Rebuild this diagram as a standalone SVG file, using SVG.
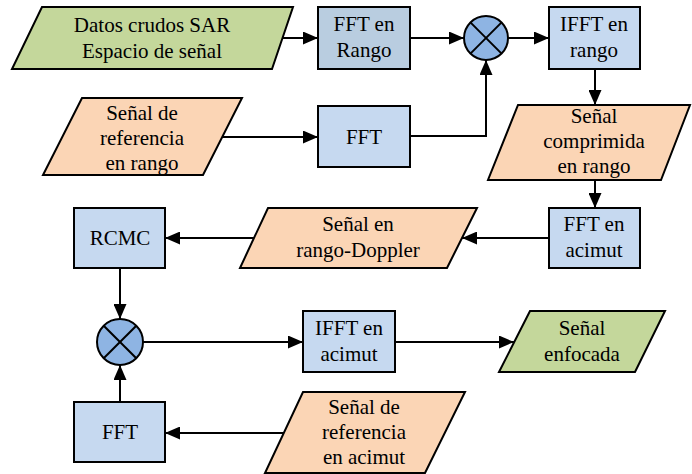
<svg xmlns="http://www.w3.org/2000/svg" width="692" height="474" viewBox="0 0 692 474">
<style>
.s{stroke:#000;stroke-width:2;}
.g{fill:#c4d79b;}
.p{fill:#fbd5b5;}
.b{fill:#c6d9f0;}
.b2{fill:#b9cde0;}
.c{fill:#8eb4e3;}
.ln{fill:none;stroke:#000;stroke-width:2;}
</style>
<defs>
<marker id="ah" markerUnits="userSpaceOnUse" markerWidth="15" markerHeight="13" refX="15" refY="6.5" orient="auto">
<path d="M0,0 L15,6.5 L0,13 z" fill="#000"/>
</marker>
</defs>
<rect width="692" height="474" fill="#fff"/>
<g id="connectors">
<line class="ln" x1="282" y1="38" x2="318" y2="38" marker-end="url(#ah)"/>
<line class="ln" x1="410" y1="38" x2="464" y2="38" marker-end="url(#ah)"/>
<line class="ln" x1="508" y1="38" x2="549" y2="38" marker-end="url(#ah)"/>
<line class="ln" x1="222" y1="137" x2="318" y2="137" marker-end="url(#ah)"/>
<polyline class="ln" points="410,136 486,136 486,60" marker-end="url(#ah)"/>
<line class="ln" x1="595" y1="69" x2="595" y2="105" marker-end="url(#ah)"/>
<line class="ln" x1="595" y1="180" x2="595" y2="208" marker-end="url(#ah)"/>
<line class="ln" x1="549" y1="238" x2="462" y2="238" marker-end="url(#ah)"/>
<line class="ln" x1="254" y1="238" x2="165" y2="238" marker-end="url(#ah)"/>
<line class="ln" x1="120" y1="268" x2="120" y2="319" marker-end="url(#ah)"/>
<line class="ln" x1="143" y1="342" x2="303" y2="342" marker-end="url(#ah)"/>
<line class="ln" x1="395" y1="342" x2="514" y2="342" marker-end="url(#ah)"/>
<line class="ln" x1="284" y1="433" x2="165" y2="433" marker-end="url(#ah)"/>
<line class="ln" x1="120" y1="402" x2="120" y2="365" marker-end="url(#ah)"/>
</g>
<g id="datos">
<polygon class="s g" points="42,7 293,7 272,69 12,69"/>
<text x="152" y="32" font-family="Liberation Serif" font-size="21" text-anchor="middle" style="font-family:'Liberation Serif'">Datos crudos SAR</text>
<text x="152" y="58" font-family="Liberation Serif" font-size="21" text-anchor="middle" style="font-family:'Liberation Serif'">Espacio de señal</text>
</g>
<g id="fft-rango">
<rect class="s b2" x="318" y="7" width="92" height="62"/>
<text x="364" y="31" font-family="Liberation Serif" font-size="21" text-anchor="middle" style="font-family:'Liberation Serif'">FFT en</text>
<text x="364" y="57" font-family="Liberation Serif" font-size="21" text-anchor="middle" style="font-family:'Liberation Serif'">Rango</text>
</g>
<g id="mult1">
<circle class="s c" cx="486" cy="38" r="22"/>
<line class="ln" x1="470.4" y1="22.4" x2="501.6" y2="53.6"/>
<line class="ln" x1="501.6" y1="22.4" x2="470.4" y2="53.6"/>
</g>
<g id="ifft-rango">
<rect class="s b" x="549" y="7" width="91" height="62"/>
<text x="594" y="31" font-family="Liberation Serif" font-size="21" text-anchor="middle" style="font-family:'Liberation Serif'">IFFT en</text>
<text x="594" y="57" font-family="Liberation Serif" font-size="21" text-anchor="middle" style="font-family:'Liberation Serif'">rango</text>
</g>
<g id="ref-rango">
<polygon class="s p" points="82,98 242,98 203,175 43,175"/>
<text x="142" y="120" font-family="Liberation Serif" font-size="21" text-anchor="middle" style="font-family:'Liberation Serif'">Señal de</text>
<text x="142" y="145" font-family="Liberation Serif" font-size="21" text-anchor="middle" style="font-family:'Liberation Serif'">referencia</text>
<text x="142" y="170" font-family="Liberation Serif" font-size="21" text-anchor="middle" style="font-family:'Liberation Serif'">en rango</text>
</g>
<g id="fft1">
<rect class="s b" x="318" y="106" width="92" height="61"/>
<text x="364" y="144" font-family="Liberation Serif" font-size="21" text-anchor="middle" style="font-family:'Liberation Serif'">FFT</text>
</g>
<g id="comprimida">
<polygon class="s p" points="518,105 690,105 661,180 488,180"/>
<text x="594" y="123" font-family="Liberation Serif" font-size="21" text-anchor="middle" style="font-family:'Liberation Serif'">Señal</text>
<text x="594" y="148" font-family="Liberation Serif" font-size="21" text-anchor="middle" style="font-family:'Liberation Serif'">comprimida</text>
<text x="594" y="173" font-family="Liberation Serif" font-size="21" text-anchor="middle" style="font-family:'Liberation Serif'">en rango</text>
</g>
<g id="fft-acimut">
<rect class="s b" x="549" y="208" width="91" height="60"/>
<text x="594" y="231" font-family="Liberation Serif" font-size="21" text-anchor="middle" style="font-family:'Liberation Serif'">FFT en</text>
<text x="594" y="257" font-family="Liberation Serif" font-size="21" text-anchor="middle" style="font-family:'Liberation Serif'">acimut</text>
</g>
<g id="rango-doppler">
<polygon class="s p" points="268,208 477,208 447,268 240,268"/>
<text x="358" y="231" font-family="Liberation Serif" font-size="21" text-anchor="middle" style="font-family:'Liberation Serif'">Señal en</text>
<text x="358" y="257" font-family="Liberation Serif" font-size="21" text-anchor="middle" style="font-family:'Liberation Serif'">rango-Doppler</text>
</g>
<g id="rcmc">
<rect class="s b" x="74" y="208" width="91" height="60"/>
<text x="120" y="245" font-family="Liberation Serif" font-size="21" text-anchor="middle" style="font-family:'Liberation Serif'">RCMC</text>
</g>
<g id="mult2">
<circle class="s c" cx="120" cy="342" r="23"/>
<line class="ln" x1="103.7" y1="325.7" x2="136.3" y2="358.3"/>
<line class="ln" x1="136.3" y1="325.7" x2="103.7" y2="358.3"/>
</g>
<g id="ifft-acimut">
<rect class="s b" x="303" y="311" width="92" height="61"/>
<text x="349" y="335" font-family="Liberation Serif" font-size="21" text-anchor="middle" style="font-family:'Liberation Serif'">IFFT en</text>
<text x="349" y="361" font-family="Liberation Serif" font-size="21" text-anchor="middle" style="font-family:'Liberation Serif'">acimut</text>
</g>
<g id="enfocada">
<polygon class="s g" points="530,311 665,311 635,372 499,372"/>
<text x="582" y="335" font-family="Liberation Serif" font-size="21" text-anchor="middle" style="font-family:'Liberation Serif'">Señal</text>
<text x="582" y="361" font-family="Liberation Serif" font-size="21" text-anchor="middle" style="font-family:'Liberation Serif'">enfocada</text>
</g>
<g id="fft2">
<rect class="s b" x="74" y="402" width="91" height="60"/>
<text x="120" y="439" font-family="Liberation Serif" font-size="21" text-anchor="middle" style="font-family:'Liberation Serif'">FFT</text>
</g>
<g id="ref-acimut">
<polygon class="s p" points="303,392 465,392 425,473 265,473"/>
<text x="364" y="414" font-family="Liberation Serif" font-size="21" text-anchor="middle" style="font-family:'Liberation Serif'">Señal de</text>
<text x="364" y="439" font-family="Liberation Serif" font-size="21" text-anchor="middle" style="font-family:'Liberation Serif'">referencia</text>
<text x="364" y="464" font-family="Liberation Serif" font-size="21" text-anchor="middle" style="font-family:'Liberation Serif'">en acimut</text>
</g>
</svg>
